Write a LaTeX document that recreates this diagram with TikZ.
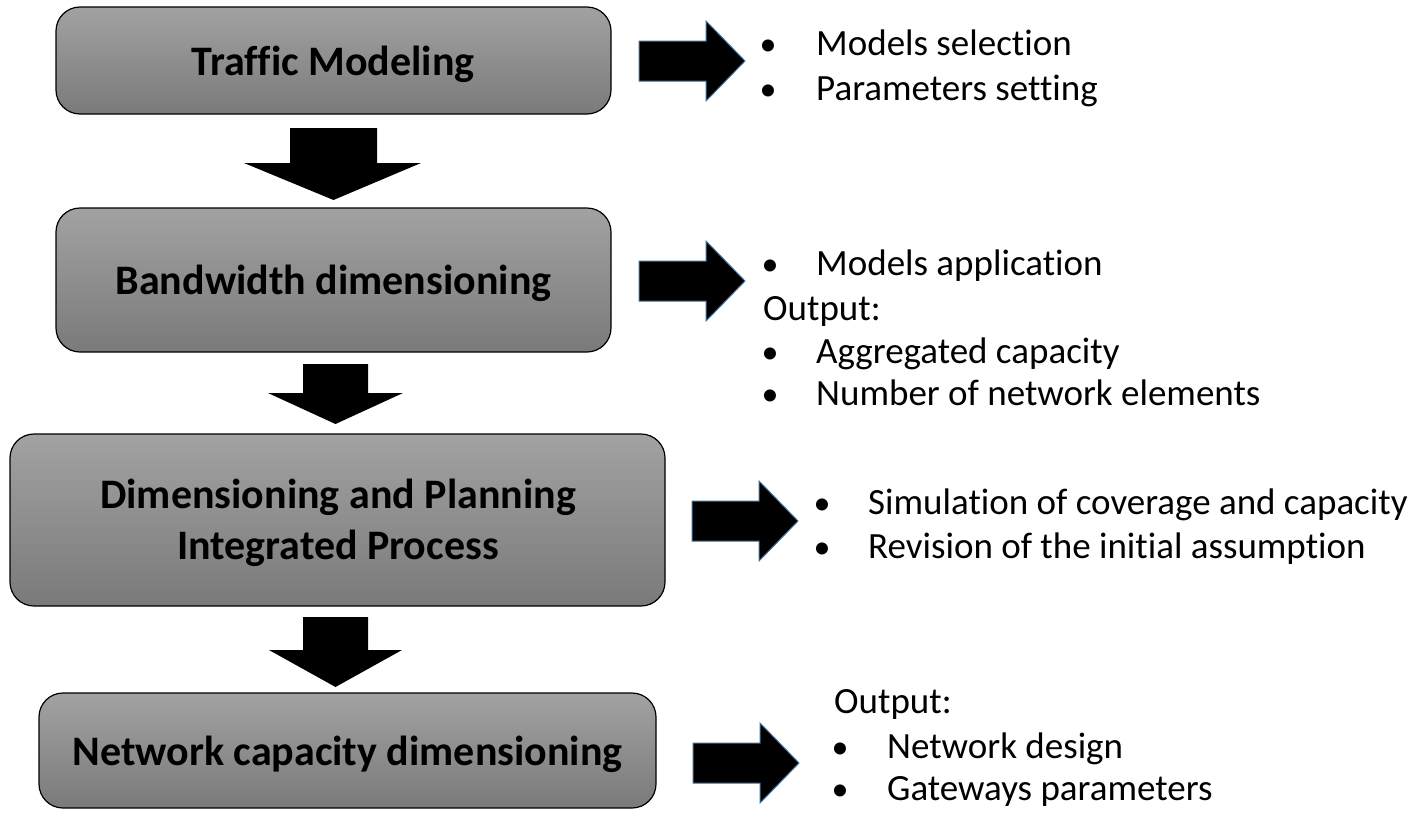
\documentclass[tikz,border=0pt]{standalone}
\usepackage{fontspec}
\setmainfont{Carlito}[Ligatures={NoCommon,NoRequired,NoContextual}]
\usetikzlibrary{calc}
\definecolor{boxtop}{RGB}{162,162,162}
\definecolor{boxbot}{RGB}{122,122,122}
\definecolor{arrline}{RGB}{65,113,156}
\begin{document}
\begin{tikzpicture}[x=1pt,y=-1pt,
  procbox/.style={draw=black, line width=1.2pt, rounded corners=24pt, top color=boxtop, bottom color=boxbot, inner sep=0pt},
  boxtext/.style={font=\fontsize{42}{50}\selectfont\bfseries, inner sep=0pt, anchor=base},
  itemtext/.style={font=\fontsize{37}{44}\selectfont, inner sep=0pt, anchor=base west},
  bulletmark/.style={font=\fontsize{34}{41}\selectfont, inner sep=0pt, anchor=base},
  blockarrow/.style={fill=black},
  rightarrow/.style={fill=black, draw=arrline, line width=1pt},
  rarrow/.pic={\filldraw[rightarrow] (0,-20) -- (67,-20) -- (67,-40) -- (106,0) -- (67,40) -- (67,20) -- (0,20) -- cycle;}]
\useasboundingbox (0,0) rectangle (1419,814);
\fill[white] (0,0) rectangle (1419,814);

% process boxes
\node[procbox, minimum width=555pt, minimum height=107pt] (b1) at (333.5,60.5) {};
\node[procbox, minimum width=555pt, minimum height=144pt] (b2) at (333.5,280) {};
\node[procbox, minimum width=655pt, minimum height=172pt] (b3) at (337.5,520) {};
\node[procbox, minimum width=617pt, minimum height=115pt] (b4) at (347.5,750.5) {};

\node[boxtext] (t1) at (333,75) {Traffic Modeling};
\node[boxtext] (t2) at (333.5,294) {Bandwidth dimensioning};
\node[boxtext] (t3a) at (338,508) {Dimensioning and Planning};
\node[boxtext] (t3b) at (338,559) {Integrated Process};
\node[boxtext] (t4) at (347.5,765) {Network capacity dimensioning};

% down arrows
\fill[blockarrow] (290,128) -- (377,128) -- (377,163) -- (421,163) -- (333.5,200) -- (244,163) -- (290,163) -- cycle;
\fill[blockarrow] (303,364) -- (368,364) -- (368,393) -- (403,393) -- (335.5,424) -- (268,393) -- (303,393) -- cycle;
\fill[blockarrow] (303,617) -- (368,617) -- (368,650) -- (402,650) -- (335.5,687) -- (269,650) -- (303,650) -- cycle;

% right arrows
\pic (ra1) at (639,61) {rarrow};
\pic (ra2) at (639,281) {rarrow};
\pic (ra3) at (692,521) {rarrow};
\pic (ra4) at (693,763) {rarrow};

% block 1 text
\node[bulletmark] (u1) at (768,55) {•};
\node[itemtext] (i1) at (816,55) {Models selection};
\node[bulletmark] (u2) at (768,100) {•};
\node[itemtext] (i2) at (816,100) {Parameters setting};

% block 2 text
\node[bulletmark] (u3) at (770,275) {•};
\node[itemtext] (i3) at (816,275) {Models application};
\node[itemtext] (o2) at (763,320) {Output:};
\node[bulletmark] (u4) at (770,363) {•};
\node[itemtext] (i4) at (816,363) {Aggregated capacity};
\node[bulletmark] (u5) at (770,405) {•};
\node[itemtext] (i5) at (816,405) {Number of network elements};

% block 3 text
\node[bulletmark] (u6) at (822,514) {•};
\node[itemtext] (i6) at (868,514) {Simulation of coverage and capacity};
\node[bulletmark] (u7) at (822,558) {•};
\node[itemtext] (i7) at (868,558) {Revision of the initial assumption};

% block 4 text
\node[itemtext] (o4) at (834,713) {Output:};
\node[bulletmark] (u8) at (840,758) {•};
\node[itemtext] (i8) at (887,758) {Network design};
\node[bulletmark] (u9) at (840,800) {•};
\node[itemtext] (i9) at (887,800) {Gateways parameters};
\end{tikzpicture}
\end{document}
